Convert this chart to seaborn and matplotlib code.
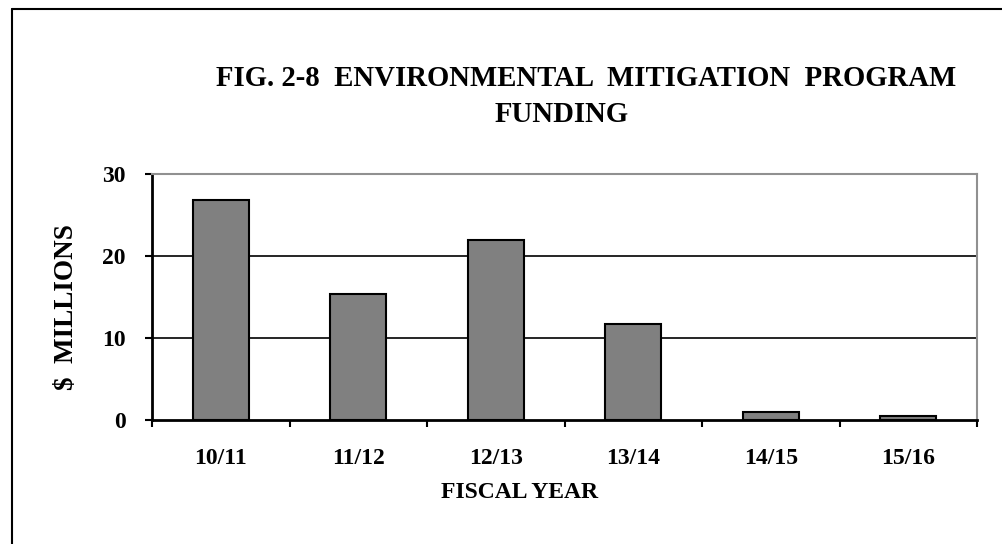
import matplotlib
matplotlib.use("Agg")
import matplotlib.pyplot as plt
import seaborn as sns
import pandas as pd
from matplotlib.lines import Line2D

# data
years = ["10/11", "11/12", "12/13", "13/14", "14/15", "15/16"]
funding = [26.8, 15.4, 22.0, 11.7, 1.0, 0.5]

df = pd.DataFrame({"year": years, "funding": funding})

sns.set_theme(style="white")
plt.rcParams["font.family"] = ["Liberation Serif", "DejaVu Serif"]
plt.rcParams["font.weight"] = "bold"
plt.rcParams["text.color"] = "black"
plt.rcParams["xtick.color"] = "black"
plt.rcParams["ytick.color"] = "black"

fig = plt.figure(figsize=(10.02, 5.44), dpi=100)
ax = fig.add_axes([0.1517, 0.2279, 0.8234, 0.4522])

sns.barplot(data=df, x="year", y="funding", color="#808080", edgecolor="black",
            linewidth=1.5, width=0.41, saturation=1, ax=ax, zorder=3)

ax.set_ylim(0, 30)
ax.set_yticks([0, 10, 20, 30])
ax.set_xlim(-0.5, len(years) - 0.5)
for y in [10, 20]:
    ax.axhline(y, color="black", lw=1.2, zorder=1)

# x ticks sit between categories
ax.set_xticks([i - 0.5 for i in range(len(years) + 1)], minor=False)
ax.set_xticklabels([])
ax.set_xticks(range(len(years)), minor=True)
ax.set_xticklabels(years, minor=True, fontsize=17, fontweight="bold")
ax.tick_params(axis="x", which="major", direction="out", length=5, width=1.5, color="black", bottom=True)
ax.tick_params(axis="x", which="minor", length=0, pad=20)
ax.tick_params(axis="y", direction="out", length=5, width=1.5, color="black", left=True,
               labelsize=17, pad=14)
for lab in ax.get_yticklabels():
    lab.set_fontweight("bold")

for side in ["left", "bottom"]:
    ax.spines[side].set_color("black")
    ax.spines[side].set_linewidth(2)
for side in ["top", "right"]:
    ax.spines[side].set_color("#909090")
    ax.spines[side].set_linewidth(1.5)

ax.set_xlabel("")
ax.set_ylabel("")
fig.text(0.066, 0.435, "$  MILLIONS", rotation=90, ha="center", va="center",
         fontsize=19.5, fontweight="bold")
fig.text(0.519, 0.094, "FISCAL YEAR", ha="center", va="center",
         fontsize=17, fontweight="bold")

fig.text(0.585, 0.856, "FIG. 2-8  ENVIRONMENTAL  MITIGATION  PROGRAM", ha="center",
         va="center", fontsize=20.7, fontweight="bold")
fig.text(0.561, 0.79, "FUNDING", ha="center", va="center", fontsize=20.7, fontweight="bold")

# outer frame (clipped at the right and bottom edges)
fig.add_artist(Line2D([0.012, 1.0], [0.984, 0.984], color="black", lw=1.5, transform=fig.transFigure))
fig.add_artist(Line2D([0.012, 0.012], [0.0, 0.984], color="black", lw=1.5, transform=fig.transFigure))

fig.savefig("out.png", dpi=100, facecolor="white")
